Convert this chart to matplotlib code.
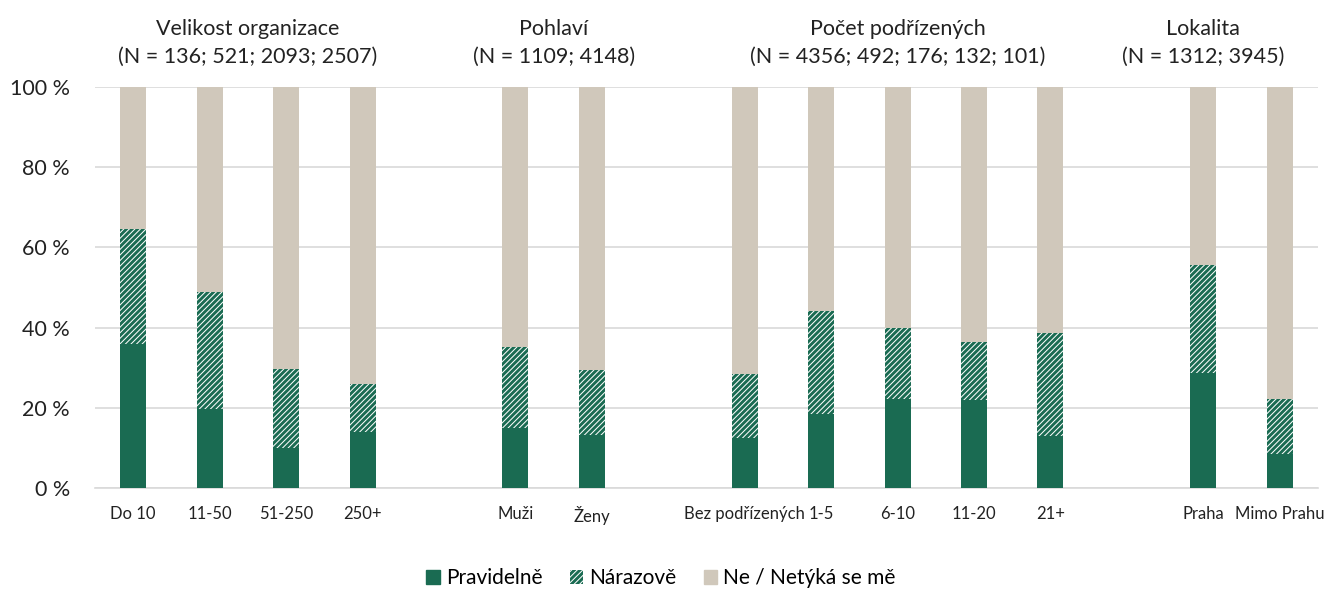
import matplotlib
matplotlib.use("Agg")
import matplotlib.pyplot as plt
import numpy as np
from matplotlib.patches import Patch

plt.rcParams['font.family'] = ['Lato', 'DejaVu Sans']
plt.rcParams['hatch.linewidth'] = 2.1

# categories (empty strings = gaps between groups)
categories = ["Do 10", "11-50", "51-250", "250+", "",
              "Muži", "Ženy", "",
              "Bez podřízených", "1-5", "6-10", "11-20", "21+", "",
              "Praha", "Mimo Prahu"]
pravidelne = [35.9, 19.7, 10.0, 14.0, 0,
              15.0, 13.2, 0,
              12.5, 18.5, 22.2, 21.9, 13.0, 0,
              28.7, 8.5]
narazove = [28.7, 29.2, 19.7, 12.0, 0,
            20.2, 16.2, 0,
            15.9, 25.6, 17.7, 14.5, 25.7, 0,
            26.9, 13.7]
is_bar = [c != "" for c in categories]
ne = [100 - p - n if b else 0 for p, n, b in zip(pravidelne, narazove, is_bar)]

group_titles = ["Velikost organizace\n(N = 136; 521; 2093; 2507)",
                "Pohlaví\n(N = 1109; 4148)",
                "Počet podřízených\n(N = 4356; 492; 176; 132; 101)",
                "Lokalita\n(N = 1312; 3945)"]
group_title_x = [1.5, 5.5, 10, 14]

green = "#1a6b52"
beige = "#d0c8bb"

fig = plt.figure(figsize=(13.3, 5.94), dpi=100)
ax = fig.add_axes([95 / 1330, (594 - 488) / 594, (1318 - 95) / 1330, (488 - 87) / 594])

x = np.arange(len(categories))
w = 0.34
p = np.array(pravidelne)
n = np.array(narazove)
r = np.array(ne)
mask = np.array(is_bar)

ax.bar(x[mask], p[mask], w, color=green, linewidth=0, zorder=3)
ax.bar(x[mask], n[mask], w, bottom=p[mask], facecolor="white", edgecolor=green,
       hatch="//////", linewidth=0, zorder=3)
ax.bar(x[mask], r[mask], w, bottom=(p + n)[mask], color=beige, linewidth=0, zorder=3)

ax.set_xlim(-0.5, len(categories) - 0.5)
ax.set_ylim(0, 100)
ax.set_yticks(np.arange(0, 101, 20))
ax.set_yticklabels([f"{v} %" for v in range(0, 101, 20)], fontsize=15.5, color="#222222")
ax.set_xticks(x[mask])
ax.set_xticklabels([c for c in categories if c], fontsize=12, color="#222222")
ax.tick_params(axis="both", length=0)
ax.tick_params(axis="x", pad=13)
ax.tick_params(axis="y", pad=18)
ax.grid(axis="y", color="#d9d9d9", linewidth=1.2, zorder=0)
for s in ["top", "right", "left"]:
    ax.spines[s].set_visible(False)
ax.spines["bottom"].set_color("#d9d9d9")
ax.spines["bottom"].set_linewidth(1.2)

for t, gx in zip(group_titles, group_title_x):
    ax.text(gx, 1.05, t, transform=ax.get_xaxis_transform(), ha="center", va="bottom",
            fontsize=15.5, color="#222222", linespacing=1.5)

handles = [Patch(facecolor=green, edgecolor=green, label="Pravidelně"),
           Patch(facecolor="white", edgecolor=green, hatch="//////", linewidth=0, label="Nárazově"),
           Patch(facecolor=beige, edgecolor=beige, label="Ne / Netýká se mě")]
fig.legend(handles=handles, loc="center", bbox_to_anchor=(0.497, 1 - 578 / 594), ncol=3,
           frameon=False, fontsize=15, handlelength=0.65, handleheight=0.65,
           handletextpad=0.3, columnspacing=1.3)

fig.savefig("out.png", dpi=100)
